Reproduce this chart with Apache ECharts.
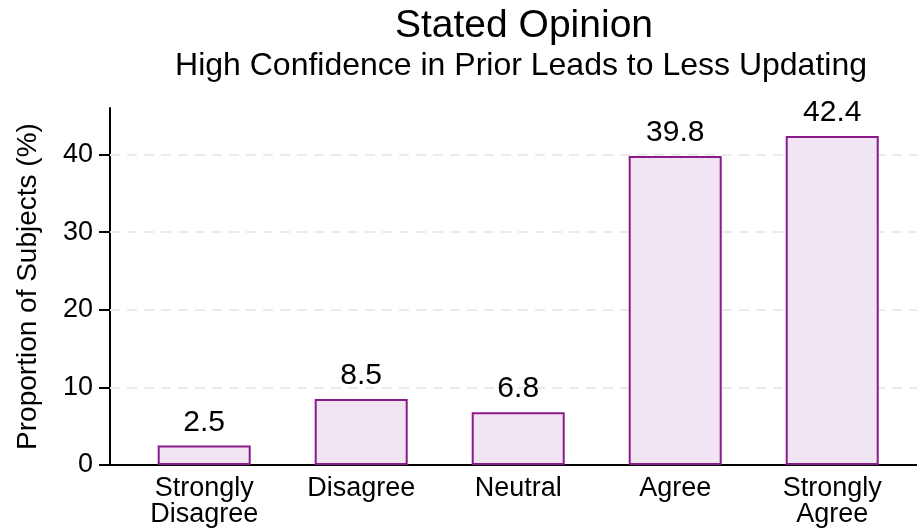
<!DOCTYPE html>
<html>
<head>
    <meta charset="utf-8">
    <title>Stated Opinion</title>
    <script src="https://cdn.jsdelivr.net/npm/echarts@6/dist/echarts.min.js"></script>
    <style>
        html, body { margin: 0; padding: 0; background: #fff; }
        #main { width: 917px; height: 531px; }
    </style>
</head>
<body>
    <div id="main"></div>
    <script>
    // data
    var categories = ['Strongly\nDisagree', 'Disagree', 'Neutral', 'Agree', 'Strongly\nAgree'];
    var shares = [2.5, 8.5, 6.8, 39.8, 42.4];
    var yTicks = [0, 10, 20, 30, 40];

    var font = '"Liberation Sans", Arial, sans-serif';

    var myChart = echarts.init(document.getElementById('main'));

    var option = {
        backgroundColor: '#fff',
        textStyle: { fontFamily: font },
        title: [{
            text: 'Stated Opinion',
            left: 519, top: 2, textAlign: 'center',
            textStyle: { fontFamily: font, fontSize: 39, fontWeight: 'normal', color: '#000' }
        }, {
            text: 'High Confidence in Prior Leads to Less Updating',
            left: 516, top: 45, textAlign: 'center',
            textStyle: { fontFamily: font, fontSize: 32, fontWeight: 'normal', color: '#000' }
        }],
        grid: { left: 110, right: 0, top: 108, bottom: 66 },
        xAxis: {
            type: 'value',
            min: -0.6, max: 4.54,
            axisLine: { show: true, onZero: false, lineStyle: { color: '#000', width: 2 } },
            axisTick: { show: false },
            splitLine: { show: false },
            axisLabel: {
                customValues: [0, 1, 2, 3, 4],
                formatter: function (v) { return categories[Math.round(v)]; },
                fontFamily: font, fontSize: 27, lineHeight: 26, color: '#000', margin: 11
            }
        },
        yAxis: {
            type: 'value',
            min: 0, max: 46,
            axisLine: { show: true, onZero: false, lineStyle: { color: '#000', width: 2 } },
            axisTick: { show: true, customValues: yTicks, length: 11, lineStyle: { color: '#000', width: 2 } },
            axisLabel: { customValues: yTicks, fontFamily: font, fontSize: 27, color: '#000', margin: 17 },
            splitLine: { show: false },
            name: 'Proportion of Subjects (%)',
            nameLocation: 'middle', nameGap: 68,
            nameTextStyle: { fontFamily: font, fontSize: 28, color: '#000' }
        },
        series: [{
            type: 'bar',
            data: shares.map(function (v, i) { return [i, v]; }),
            barWidth: 93,
            itemStyle: { color: '#f1e5f3', borderColor: '#8b1a8b', borderWidth: 2 },
            label: {
                show: true, position: 'top', distance: 8,
                fontFamily: font, fontSize: 30, color: '#000',
                formatter: function (p) { return p.value[1].toFixed(1); }
            },
            markLine: {
                silent: true, symbol: 'none', label: { show: false },
                lineStyle: { color: '#ebebeb', type: [10, 7], width: 2 },
                data: yTicks.slice(1).map(function (t) { return { yAxis: t }; }),
                z: 1
            },
            z: 3
        }]
    };

    myChart.setOption(option);
    </script>
</body>
</html>
